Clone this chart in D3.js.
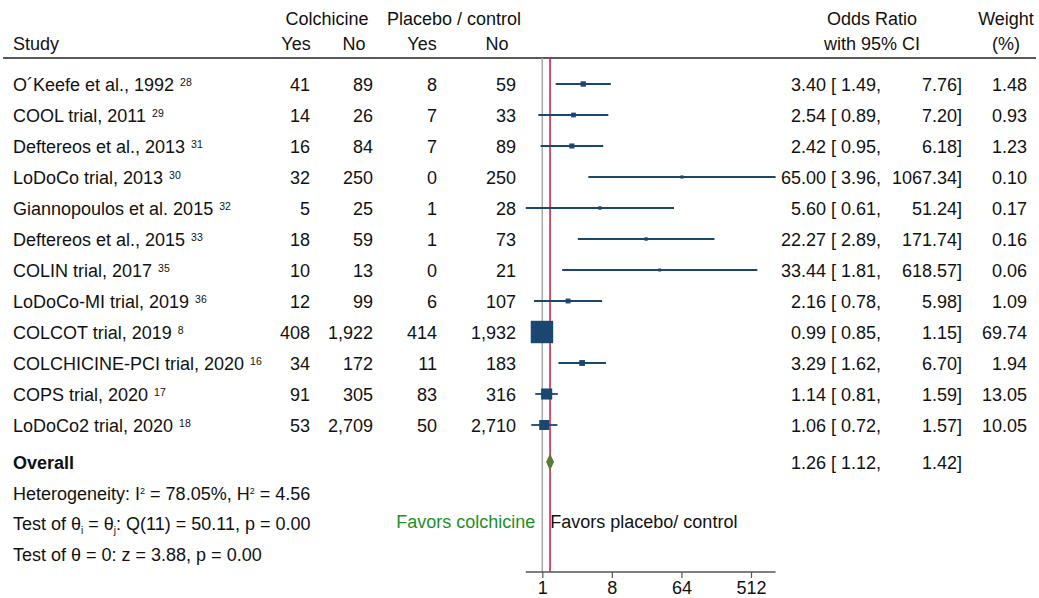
<!DOCTYPE html>
<html lang="en">
<head>
<meta charset="UTF-8">
<title>Forest plot</title>
<script src="https://cdn.jsdelivr.net/npm/d3@7"></script>
<style>
  body { margin: 0; background: #fff; }
  svg text { font-family: "Liberation Sans", Arial, Helvetica, sans-serif; font-size: 18px; fill: #111; }
</style>
</head>
<body>
<svg width="1039" height="598"></svg>
<script>
// data
var studies = ["O\u00B4Keefe et al., 1992", "COOL trial, 2011", "Deftereos et al., 2013", "LoDoCo trial, 2013",
    "Giannopoulos et al. 2015", "Deftereos et al., 2015", "COLIN trial, 2017", "LoDoCo-MI trial, 2019",
    "COLCOT trial, 2019", "COLCHICINE-PCI trial, 2020", "COPS trial, 2020", "LoDoCo2 trial, 2020"];
var refs = ["28", "29", "31", "30", "32", "33", "35", "36", "8", "16", "17", "18"];
var colYes = [41, 14, 16, 32, 5, 18, 10, 12, 408, 34, 91, 53];
var colNo = [89, 26, 84, 250, 25, 59, 13, 99, 1922, 172, 305, 2709];
var plaYes = [8, 7, 7, 0, 1, 1, 0, 6, 414, 11, 83, 50];
var plaNo = [59, 33, 89, 250, 28, 73, 21, 107, 1932, 183, 316, 2710];
var oddsRatio = [3.40, 2.54, 2.42, 65.00, 5.60, 22.27, 33.44, 2.16, 0.99, 3.29, 1.14, 1.06];
var ciLow = [1.49, 0.89, 0.95, 3.96, 0.61, 2.89, 1.81, 0.78, 0.85, 1.62, 0.81, 0.72];
var ciHigh = [7.76, 7.20, 6.18, 1067.34, 51.24, 171.74, 618.57, 5.98, 1.15, 6.70, 1.59, 1.57];
var weights = [1.48, 0.93, 1.23, 0.10, 0.17, 0.16, 0.06, 1.09, 69.74, 1.94, 13.05, 10.05];
var overall = {or: 1.26, lo: 1.12, hi: 1.42};
var axisTicks = [1, 8, 64, 512];

var svg = d3.select("svg");
var navy = "#1a476f";
var fmt2 = d3.format(".2f");
var fmtN = d3.format(",");

// scales
var x = d3.scaleLog().base(2).domain([1, 512]).range([542.3, 751]);
var y = d3.scalePoint().domain(d3.range(studies.length)).range([84, 425]);
var yOverall = 462;
var plotTop = 58, axisY = 572;

function txt(xp, yp, s, anchor) {
    return svg.append("text").attr("x", xp).attr("y", yp).attr("text-anchor", anchor || "start").text(s);
}

// header
txt(327, 25, "Colchicine", "middle");
txt(454, 25, "Placebo / control", "middle");
txt(13, 50, "Study");
txt(296, 50, "Yes", "middle");
txt(354, 50, "No", "middle");
txt(422, 50, "Yes", "middle");
txt(497, 50, "No", "middle");
txt(872, 25, "Odds Ratio", "middle");
txt(872, 50, "with 95% CI", "middle");
txt(1006, 25, "Weight", "middle");
txt(1006, 50, "(%)", "middle");
svg.append("line").attr("x1", 3).attr("x2", 1036).attr("y1", plotTop).attr("y2", plotTop)
    .attr("stroke", "#222").attr("stroke-width", 1.4);

// reference lines
svg.append("line").attr("x1", x(1)).attr("x2", x(1)).attr("y1", plotTop).attr("y2", axisY)
    .attr("stroke", "#a8a8a8").attr("stroke-width", 1.5);
svg.append("line").attr("x1", x(overall.or)).attr("x2", x(overall.or)).attr("y1", plotTop).attr("y2", axisY)
    .attr("stroke", "#d4143c").attr("stroke-width", 1.5);

// rows
var rows = svg.selectAll(".row").data(d3.range(studies.length)).enter().append("g").attr("class", "row");

var lab = rows.append("text").attr("x", 13).attr("y", function(i) { return y(i) + 6.5; })
    .text(function(i) { return studies[i]; });
lab.append("tspan").attr("dx", 6).attr("dy", -5).style("font-size", "10.5px")
    .text(function(i) { return refs[i]; });

[[colYes, 310], [colNo, 373], [plaYes, 437], [plaNo, 516]].forEach(function(c) {
    rows.append("text").attr("x", c[1]).attr("y", function(i) { return y(i) + 6.5; })
        .attr("text-anchor", "end").text(function(i) { return fmtN(c[0][i]); });
});

rows.append("line")
    .attr("x1", function(i) { return x(ciLow[i]); })
    .attr("x2", function(i) { return x(ciHigh[i]); })
    .attr("y1", function(i) { return y(i); })
    .attr("y2", function(i) { return y(i); })
    .attr("stroke", navy).attr("stroke-width", 1.8);

function side(w) { return 2.4 * Math.sqrt(w) + 1.2; }
rows.append("rect")
    .attr("x", function(i) { return x(oddsRatio[i]) - side(weights[i]) / 2; })
    .attr("y", function(i) { return y(i) - side(weights[i]) / 2; })
    .attr("width", function(i) { return side(weights[i]); })
    .attr("height", function(i) { return side(weights[i]); })
    .attr("fill", navy).attr("stroke", navy).attr("stroke-width", 1.2);

rows.append("text").attr("x", 826).attr("y", function(i) { return y(i) + 6.5; })
    .attr("text-anchor", "end").text(function(i) { return fmt2(oddsRatio[i]); });
rows.append("text").attr("x", 831).attr("y", function(i) { return y(i) + 6.5; })
    .text(function(i) { return "[ " + fmt2(ciLow[i]) + ","; });
rows.append("text").attr("x", 962).attr("y", function(i) { return y(i) + 6.5; })
    .attr("text-anchor", "end").text(function(i) { return fmt2(ciHigh[i]) + "]"; });
rows.append("text").attr("x", 1027).attr("y", function(i) { return y(i) + 6.5; })
    .attr("text-anchor", "end").text(function(i) { return fmt2(weights[i]); });

// overall
svg.append("polygon")
    .attr("points", [[x(overall.lo), yOverall], [x(overall.or), yOverall - 8.5],
        [x(overall.hi), yOverall], [x(overall.or), yOverall + 8.5]].join(" "))
    .attr("fill", "#5b7a34");
txt(13, yOverall + 6.5, "Overall").style("font-weight", "bold");
txt(826, yOverall + 6.5, fmt2(overall.or), "end");
txt(831, yOverall + 6.5, "[ " + fmt2(overall.lo) + ",");
txt(962, yOverall + 6.5, fmt2(overall.hi) + "]", "end");

// heterogeneity lines
var h = txt(13, 500, "Heterogeneity: I");
h.append("tspan").attr("dy", -6).style("font-size", "9px").text("2");
h.append("tspan").attr("dy", 6).text(" = 78.05%, H");
h.append("tspan").attr("dy", -6).style("font-size", "9px").text("2");
h.append("tspan").attr("dy", 6).text(" = 4.56");

var q = txt(13, 530, "Test of \u03B8");
q.append("tspan").attr("dy", 4).style("font-size", "10px").text("i");
q.append("tspan").attr("dy", -4).text(" = \u03B8");
q.append("tspan").attr("dy", 4).style("font-size", "10px").text("j");
q.append("tspan").attr("dy", -4).text(": Q(11) = 50.11, p = 0.00");

txt(13, 561, "Test of \u03B8 = 0: z = 3.88, p = 0.00");

// favors labels
txt(x(1) - 7, 528, "Favors colchicine", "end").style("fill", "#1f8f1f");
txt(x(1) + 8, 528, "Favors placebo/ control");

// axis
var ax = svg.append("g").attr("transform", "translate(0," + axisY + ")")
    .call(d3.axisBottom(x).tickValues(axisTicks).tickFormat(d3.format("d")).tickSize(6).tickPadding(3));
ax.select(".domain").remove();
ax.selectAll(".tick line").attr("stroke", "#555").attr("stroke-width", 1.2);
ax.selectAll(".tick text").style("font-size", "18px").attr("fill", "#111")
    .style("font-family", "'Liberation Sans', Arial, sans-serif");
ax.append("line").attr("x1", x(d3.min(ciLow))).attr("x2", x(d3.max(ciHigh)))
    .attr("y1", 0).attr("y2", 0).attr("stroke", "#555").attr("stroke-width", 1.4);
</script>
</body>
</html>
